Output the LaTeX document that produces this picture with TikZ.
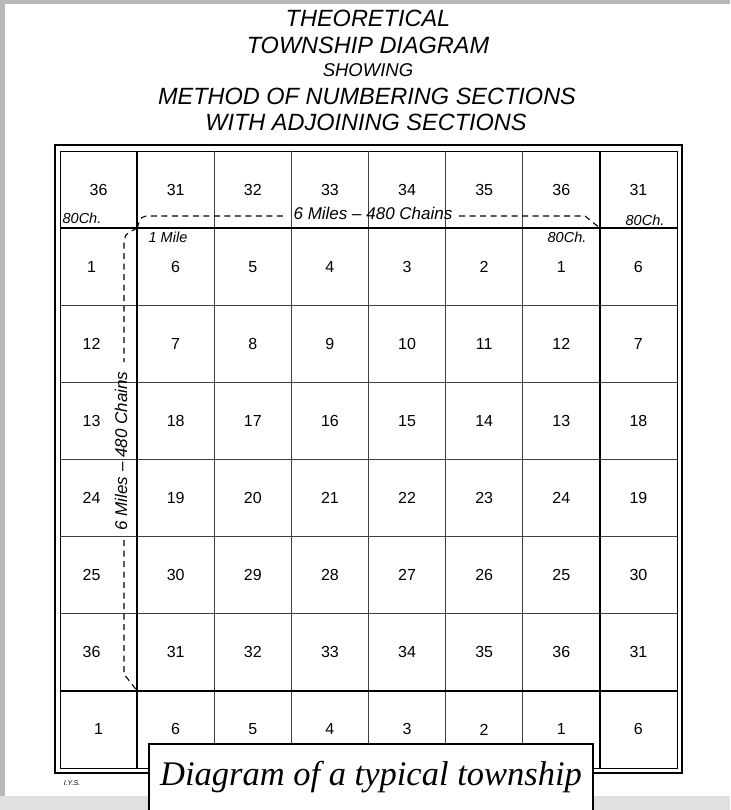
\documentclass[tikz,border=0pt]{standalone}
\usepackage{fontspec}
\setmainfont{Liberation Serif}
\setsansfont{Liberation Sans}
\usetikzlibrary{calc}
\tikzset{
  frame/.style={line width=2.4pt},
  inner/.style={line width=0.9pt},
  township/.style={line width=2.2pt},
  section/.style={line width=0.8pt,black!75},
  measure/.style={line width=1.1pt,dash pattern=on 6pt off 4.5pt},
  num/.style={font=\sffamily\fontsize{16}{16}\selectfont,inner sep=0pt},
  ttl/.style={font=\sffamily\itshape\fontsize{23.5}{24}\selectfont,inner sep=0pt},
  sub/.style={font=\sffamily\itshape\fontsize{18.5}{19}\selectfont,inner sep=0pt},
  chain/.style={font=\sffamily\itshape\fontsize{14.5}{15}\selectfont,inner sep=0pt},
  miles/.style={font=\sffamily\itshape\fontsize{17}{17}\selectfont,inner sep=0pt},
  caption/.style={font=\itshape\fontsize{34.5}{35}\selectfont,inner sep=0pt},
}
\def\cell{77.125}

\begin{document}
\begin{tikzpicture}[x=1pt,y=-1pt]
    \useasboundingbox (0,0) rectangle (730,810);
    % ---- page with its grey surround ----
    \fill[black!28] (0,0) rectangle (730,810);
    \fill[black!12] (0,796) rectangle (730,810);
    \fill[white] (5,4) rectangle (730,796);
    % ---- title ----
    \node[ttl] (t1) at (368,18) {THEORETICAL};
    \node[ttl] (t2) at (368,45) {TOWNSHIP DIAGRAM};
    \node[sub] (t3) at (368,70) {SHOWING};
    \node[ttl] (t4) at (367,96) {METHOD OF NUMBERING SECTIONS};
    \node[ttl] (t5) at (366,122) {WITH ADJOINING SECTIONS};
    % ---- frame and section lines ----
    \draw[frame] (55,145) rectangle (682,773);
    \draw[inner] (60,151) rectangle (677,768);
    \foreach \i in {2,...,6} {
      \draw[section] ({60+\i*\cell},151) -- ({60+\i*\cell},768);
      \draw[section] (60,{151+\i*\cell}) -- (677,{151+\i*\cell});
    }
    \foreach \i in {1,7} {
      \draw[township] ({60+\i*\cell},151) -- ({60+\i*\cell},768);
      \draw[township] (60,{151+\i*\cell}) -- (677,{151+\i*\cell});
    }
    % ---- section numbers ----
    \foreach \row [count=\r from 0] in {{36,31,32,33,34,35,36,31},{1,6,5,4,3,2,1,6},
        {12,7,8,9,10,11,12,7},{13,18,17,16,15,14,13,18},{24,19,20,21,22,23,24,19},
        {25,30,29,28,27,26,25,30},{36,31,32,33,34,35,36,31},{1,6,5,4,3,2,1,6}} {
      \foreach \n [count=\c from 0] in \row {
        \pgfmathsetmacro\dx{(\c==0 && \r>0 && \r<7) ? -7 : 0}
        \node[num] (s-\r-\c) at ({60+(\c+0.5)*\cell+\dx},{151+(\r+0.5)*\cell}) {\n};
      }
    }
    % ---- six mile measures ----
    \coordinate (NW) at ({60+\cell},{151+\cell});
    \coordinate (NE) at ({60+7*\cell},{151+\cell});
    \coordinate (SW) at ({60+\cell},{151+7*\cell});
    \draw[measure] (NW) .. controls (141,216) .. (152,216) -- (287,216);
    \draw[measure] (459,216) -- (585,216) -- (NE);
    \draw[measure] (NW) .. controls (124,235) .. (124,247) -- (124,362);
    \draw[measure] (124,540) -- (124,674) -- (SW);
    \node[miles] (m-top) at (373,213) {6 Miles -- 480 Chains};
    \node[miles,rotate=90] (m-left) at (121,451) {6 Miles -- 480 Chains};
    \node[chain] (ch-w) at (82,218) {80Ch.};
    \node[chain] (ch-e) at (645,220) {80Ch.};
    \node[chain] (ch-in) at (567,237) {80Ch.};
    \node[chain] (mile) at (168,237) {1 Mile};
    \node[font=\sffamily\itshape\fontsize{7}{7}\selectfont,inner sep=0pt] (sig) at (72,783) {I.Y.S.};
    % ---- caption box ----
    \draw[line width=1.8pt,fill=white] (149,744) rectangle (593,812);
    \node[caption] (cap) at (371,777) {Diagram of a typical township};
\end{tikzpicture}
\end{document}
